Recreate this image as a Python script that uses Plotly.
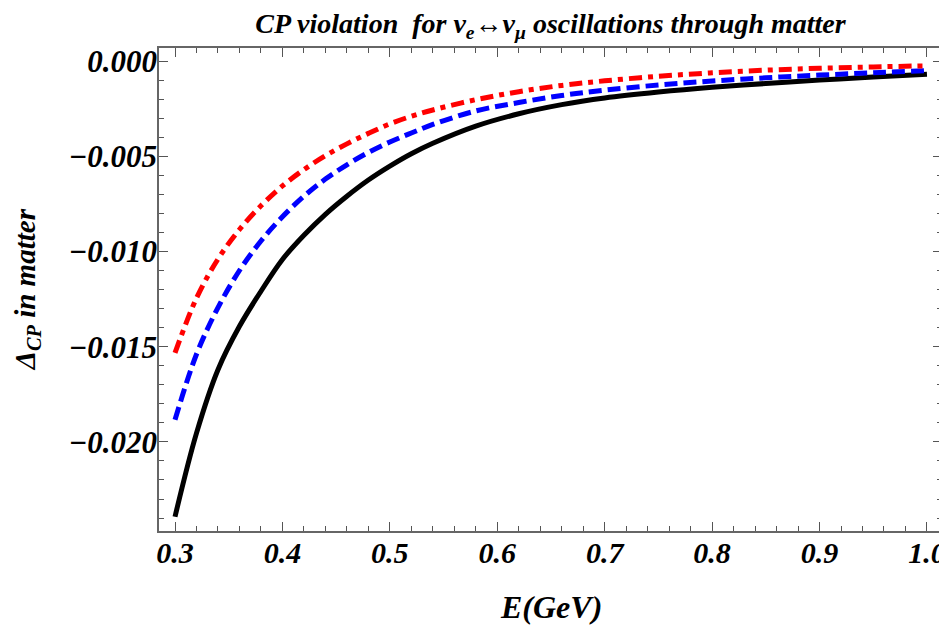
import plotly.graph_objects as go

energy = [0.30, 0.32, 0.34, 0.36, 0.38, 0.40, 0.42, 0.44, 0.46, 0.48, 0.50, 0.52, 0.54,
          0.58, 0.62, 0.66, 0.70, 0.75, 0.80, 0.85, 0.90, 0.95, 1.00]
black_vals = [-0.02393, -0.01954, -0.01621, -0.01393, -0.01209, -0.01042, -0.00915,
              -0.00805, -0.00710, -0.00625, -0.00552, -0.00487, -0.00432,
              -0.00342, -0.00277, -0.00229, -0.00194, -0.00163, -0.00138, -0.00118,
              -0.00100, -0.00084, -0.00070]
blue_vals = [-0.01884, -0.01540, -0.01295, -0.01100, -0.00945, -0.00818, -0.00710,
             -0.00620, -0.00545, -0.00480, -0.00425, -0.00378, -0.00333,
             -0.00262, -0.00218, -0.00181, -0.00153, -0.00126, -0.00105, -0.00088,
             -0.00074, -0.00062, -0.00051]
red_vals = [-0.01533, -0.01245, -0.01040, -0.00885, -0.00760, -0.00656, -0.00570,
            -0.00497, -0.00435, -0.00380, -0.00330, -0.00290, -0.00257,
            -0.00203, -0.00161, -0.00128, -0.00104, -0.00080, -0.00062, -0.00048,
            -0.00038, -0.00031, -0.00025]

x_ticks = [0.3, 0.4, 0.5, 0.6, 0.7, 0.8, 0.9, 1.0]
x_ticktext = ["0.3", "0.4", "0.5", "0.6", "0.7", "0.8", "0.9", "1.0"]
y_ticks = [0.0, -0.005, -0.010, -0.015, -0.020]
y_ticktext = ["0.000", "\u22120.005", "\u22120.010", "\u22120.015", "\u22120.020"]

FONT = "Liberation Serif"
def bi(size):
    return dict(family=FONT, size=size, color="black", weight="bold", style="italic")

fig = go.Figure()
fig.add_trace(go.Scatter(x=energy, y=black_vals, mode="lines",
                         line=dict(color="black", width=5, shape="spline")))
fig.add_trace(go.Scatter(x=energy, y=blue_vals, mode="lines",
                         line=dict(color="#0000ff", width=5, shape="spline", dash="13px,6px")))
fig.add_trace(go.Scatter(x=energy, y=red_vals, mode="lines",
                         line=dict(color="#ff0000", width=5, shape="spline",
                                   dash="13px,6px,5px,6px")))

axis_common = dict(
    showgrid=False, zeroline=False, showline=True, linecolor="#666", linewidth=1.5,
    mirror="ticks", ticks="inside", ticklen=9, tickwidth=1.2, tickcolor="#555",
    automargin=False,
)

fig.update_xaxes(**axis_common, range=[0.2851, 1.014], tickvals=x_ticks, ticktext=x_ticktext,
                 tickfont=bi(30),
                 minor=dict(dtick=0.02, tick0=0.3, ticks="inside", ticklen=5, tickcolor="#555",
                            tickwidth=1.1, showgrid=False),
                 ticklabelstandoff=-6)
fig.update_yaxes(**axis_common, range=[-0.02468, 0.000684], tickvals=y_ticks, ticktext=y_ticktext,
                 tickfont=bi(31),
                 minor=dict(dtick=0.001, tick0=0, ticks="inside", ticklen=5, tickcolor="#555",
                            tickwidth=1.1, showgrid=False),
                 ticklabelstandoff=-6)

fig.add_annotation(text="E(GeV)", xref="paper", yref="paper", x=0.5, y=-0.157,
                   xanchor="center", yanchor="middle", showarrow=False, font=bi(32))
fig.add_annotation(text="\u0394<sub>CP</sub> in matter", textangle=-90,
                   xref="paper", yref="paper", x=-0.169, y=0.5,
                   xanchor="center", yanchor="middle", showarrow=False, font=bi(29))

# page body has an 8px margin; size the figure so the plot lands where the reference has it
fig.update_layout(
    width=939, height=618,
    margin=dict(l=151, r=5, t=40, b=95),
    paper_bgcolor="white", plot_bgcolor="white",
    showlegend=False,
    title=dict(text="CP violation  for \u03bd<sub>e</sub>\u2194\u03bd<sub>\u03bc</sub> oscillations through matter",
               x=0.5, xref="paper", y=0.976, yref="container", yanchor="middle",
               font=bi(28)),
)

fig.write_html("out.html")
